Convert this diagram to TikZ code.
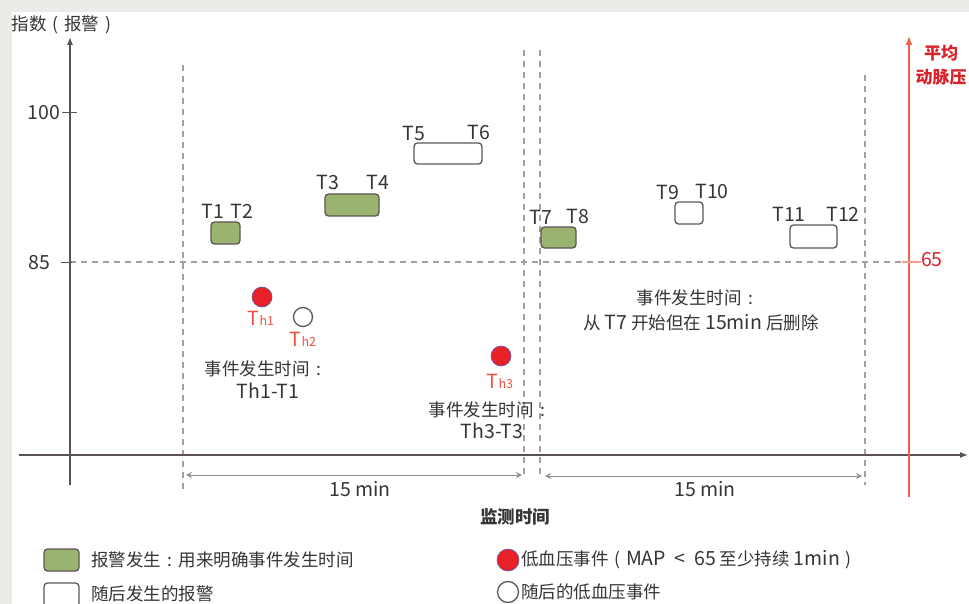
\documentclass[tikz,border=0pt]{standalone}
\usepackage{fontspec}
\setmainfont{Noto Sans CJK SC}
\usetikzlibrary{arrows.meta}
\definecolor{bggray}{HTML}{ECEBE7}
\definecolor{axisc}{HTML}{5B5353}
\definecolor{dashc}{HTML}{A89E9B}
\definecolor{greenf}{HTML}{9AB46F}
\definecolor{boxd}{HTML}{5E5656}
\definecolor{redc}{HTML}{E82128}
\definecolor{redtxt}{HTML}{F0503C}
\definecolor{redaxis}{HTML}{F2604E}
\definecolor{redtick}{HTML}{F4A08A}
\definecolor{redlabel}{HTML}{D8232B}
\definecolor{textc}{HTML}{353535}
\newcommand{\zcol}{\makebox[1em][c]{:}}
\newcommand{\zlp}{\makebox[1em][c]{(}}
\newcommand{\zrp}{\makebox[1em][c]{)}}
\newcommand{\lat}{\fontsize{19.5}{22}\selectfont}
\begin{document}
\begin{tikzpicture}[x=1pt,y=-1pt,
  every node/.style={inner sep=0pt,outer sep=0pt,text=textc,font=\fontsize{17.5}{21}\selectfont},
  axisline/.style={draw=axisc,line width=1.3pt},
  guide/.style={draw=dashc,line width=1.2pt,dash pattern=on 6pt off 5pt},
  greenbox/.style={draw=boxd,fill=greenf,line width=1.3pt,rounded corners=3.5pt},
  whitebox/.style={draw=boxd,fill=white,line width=1.3pt,rounded corners=3.5pt},
  redpt/.style={circle,draw=gray!70!blue,fill=redc,line width=0.6pt,minimum size=20pt},
  whitept/.style={circle,draw=boxd,fill=white,line width=1.3pt,minimum size=19pt},
  tlabel/.style={anchor=center,font=\lat},
  latin/.style={font=\lat},
  thlabel/.style={anchor=center,text=redtxt,font=\lat},
  dimarrow/.style={draw=dashc!90!black,line width=1pt,{Stealth[length=6pt,width=6pt]}-{Stealth[length=6pt,width=6pt]}},
  redtitle/.style={text=redlabel,font=\fontsize{17}{20}\selectfont\bfseries}
]
\fill[bggray] (0,0) rectangle (969,604);
\fill[white] (12,12) rectangle (969,604);
\useasboundingbox (0,0) rectangle (969,604);

% coordinates
\coordinate (yb) at (70,485);
\coordinate (yt) at (70,37);
\coordinate (xl) at (19,455);
\coordinate (xr) at (968,455);
\coordinate (rb) at (909,497);
\coordinate (rt) at (909,36);

% guides
\coordinate (h1) at (70,262); \coordinate (h2) at (905,262);
\draw[guide] (h1) -- (h2);
\coordinate (v1t) at (183,65); \coordinate (v1b) at (183,493);
\coordinate (v2t) at (524,50); \coordinate (v2b) at (524,478);
\coordinate (v3t) at (540,50); \coordinate (v3b) at (540,478);
\coordinate (v4t) at (865,75); \coordinate (v4b) at (865,485);
\draw[guide] (v1t) -- (v1b);
\draw[guide] (v2t) -- (v2b);
\draw[guide] (v3t) -- (v3b);
\draw[guide] (v4t) -- (v4b);

% axes
\draw[axisline,-{Latex[length=8pt,width=6pt]}] (yb) -- (yt);
\draw[axisline,-{Latex[length=8pt,width=6pt]}] (xl) -- (xr);
\draw[draw=redaxis,line width=1.3pt,-{Latex[length=9pt,width=7pt]}] (rb) -- (rt);

% ticks
\coordinate (t100a) at (62,113); \coordinate (t100b) at (77,113);
\draw[draw=axisc,line width=1pt] (t100a) -- (t100b);
\coordinate (t85a) at (61,262); \coordinate (t85b) at (72,262);
\draw[draw=axisc,line width=1pt] (t85a) -- (t85b);
\coordinate (t65a) at (902,262); \coordinate (t65b) at (921,262);
\draw[draw=redtick,line width=1.2pt] (t65a) -- (t65b);
\node[anchor=east,latin] (l100) at (60,113) {100};
\node[anchor=east,latin] (l85) at (50,263) {85};
\node[anchor=west,text=redlabel,latin] (l65) at (921,260) {65};

\node[anchor=west] (ylab) at (12,25) {指数\zlp 报警\zrp};
\node[redtitle] (rl1) at (941,53) {平均};
\node[redtitle] (rl2) at (941,77) {动脉压};

% alarm boxes
\node[greenbox,minimum width=29pt,minimum height=22pt] (b12) at (225.5,233) {};
\node[greenbox,minimum width=54pt,minimum height=22pt] (b34) at (352,205) {};
\node[whitebox,minimum width=68pt,minimum height=21pt] (b56) at (448,153.5) {};
\node[greenbox,minimum width=35pt,minimum height=21pt] (b78) at (558.5,237.5) {};
\node[whitebox,minimum width=28pt,minimum height=22pt] (b910) at (689,213) {};
\node[whitebox,minimum width=47pt,minimum height=23pt] (b1112) at (813.5,236.5) {};

\node[tlabel] (lt1) at (213,211) {T1};
\node[tlabel] (lt2) at (242,211) {T2};
\node[tlabel] (lt3) at (328,182) {T3};
\node[tlabel] (lt4) at (378,182) {T4};
\node[tlabel] (lt5) at (414,133) {T5};
\node[tlabel] (lt6) at (479,132) {T6};
\node[tlabel] (lt7) at (541,217) {T7};
\node[tlabel] (lt8) at (578,216) {T8};
\node[tlabel] (lt9) at (668,192) {T9};
\node[tlabel] (lt10) at (712,191) {T10};
\node[tlabel] (lt11) at (789,214) {T11};
\node[tlabel] (lt12) at (843,214) {T12};

% hypotension events
\node[redpt] (th1) at (262,297) {};
\node[whitept] (th2) at (303,317) {};
\node[redpt] (th3) at (501,356) {};
\node[thlabel] (lth1) at (261,318) {T{\fontsize{12.5}{13}\selectfont h1}};
\node[thlabel] (lth2) at (303,339) {T{\fontsize{12.5}{13}\selectfont h2}};
\node[thlabel] (lth3) at (500,381) {T{\fontsize{12.5}{13}\selectfont h3}};

% explanation texts
\node (e1a) at (266,369) {事件发生时间\zcol};
\node[latin] (e1b) at (268,391) {Th1-T1};
\node (e3a) at (490,410) {事件发生时间\zcol};
\node[latin] (e3b) at (492,431) {Th3-T3};
\node (e7a) at (698,298) {事件发生时间\zcol};
\node (e7b) at (701,323) {从 {\lat T7} 开始但在 {\lat 15min} 后删除};

% 15 min intervals
\coordinate (d1a) at (186,475); \coordinate (d1b) at (522,475);
\coordinate (d2a) at (545,476); \coordinate (d2b) at (862,476);
\draw[dimarrow] (d1a) -- (d1b);
\draw[dimarrow] (d2a) -- (d2b);
\node[latin] (m1) at (360,489) {15 min};
\node[latin] (m2) at (705,489) {15 min};
\node[font=\fontsize{17.5}{21}\selectfont\bfseries] (xlab) at (515,517) {监测时间};

% legend
\node[greenbox,minimum width=35pt,minimum height=22pt] (lg1) at (61.5,560) {};
\node[anchor=west] (lg1t) at (91,560) {报警发生\zcol 用来明确事件发生时间};
\node[whitebox,minimum width=35pt,minimum height=24pt] (lg2) at (61.5,595) {};
\node[anchor=west] (lg2t) at (91,594) {随后发生的报警};
\node[redpt,minimum size=22pt] (lg3) at (508,560) {};
\node[anchor=west] (lg3t) at (521,560) {低血压事件\zlp{\lat MAP \ < \ 65} 至少持续 {\lat 1min}\zrp};
\node[whitept,minimum size=21pt] (lg4) at (508,592) {};
\node[anchor=west] (lg4t) at (521,592) {随后的低血压事件};
\end{tikzpicture}
\end{document}
